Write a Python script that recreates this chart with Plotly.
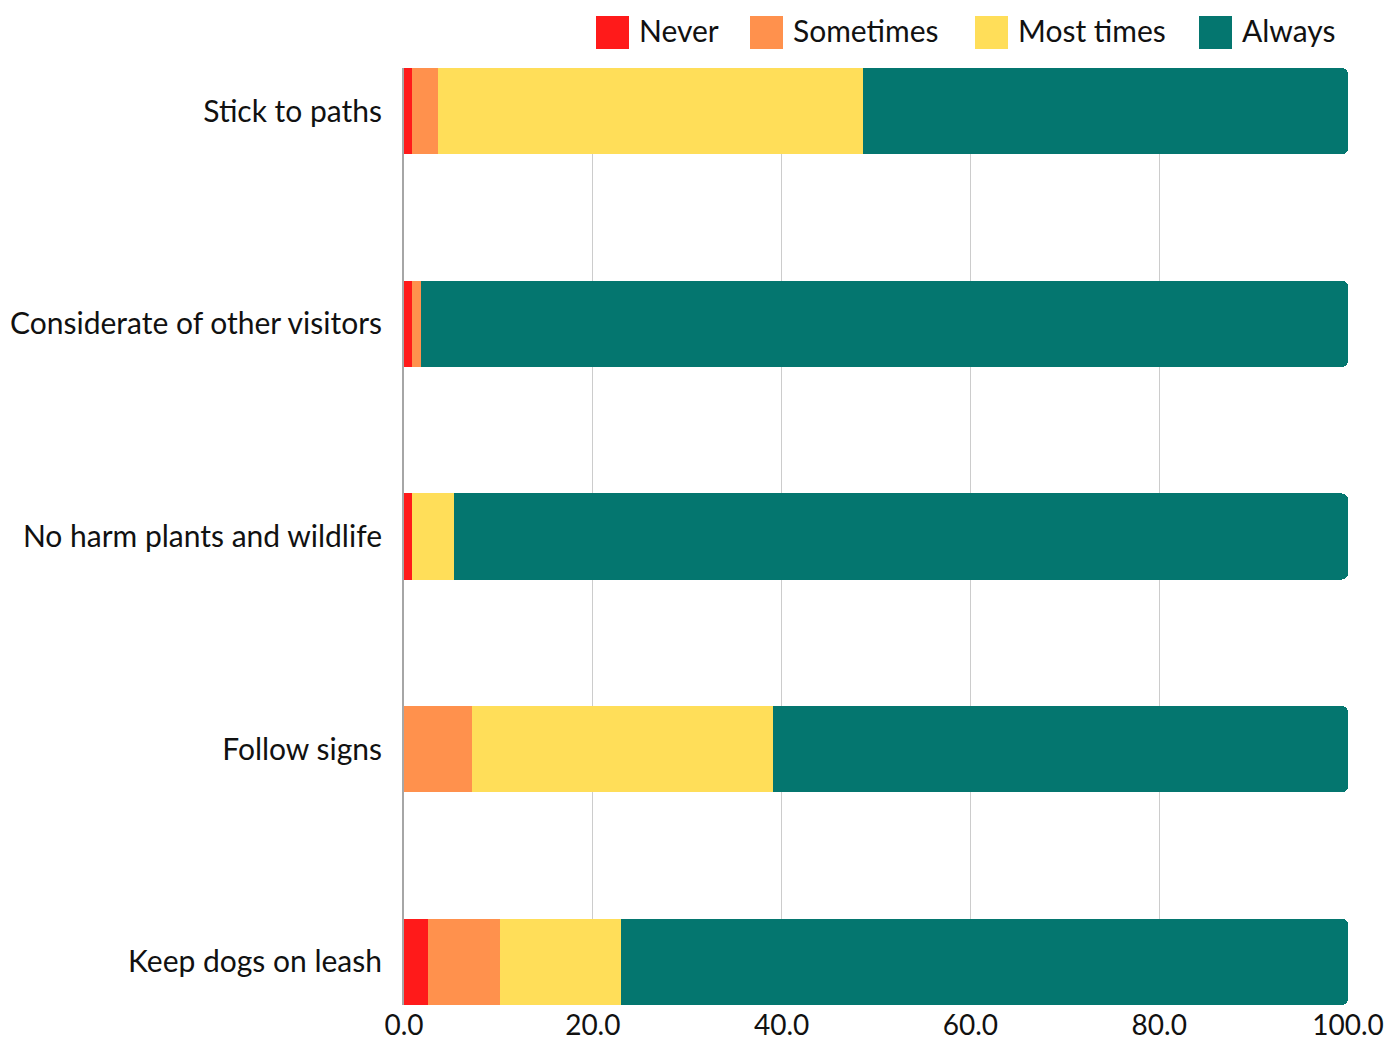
import plotly.graph_objects as go

categories = ["Stick to paths", "Considerate of other visitors", "No harm plants and wildlife",
              "Follow signs", "Keep dogs on leash"]
never = [0.85, 0.85, 0.85, 0.0, 2.5]
sometimes = [2.75, 0.95, 0.0, 7.2, 7.7]
most_times = [45.0, 0.0, 4.45, 31.9, 12.8]
always = [51.4, 98.2, 94.7, 60.9, 77.0]
series_names = ["Never", "Sometimes", "Most times", "Always"]
colors = ["#FF1A1A", "#FF914D", "#FFDE59", "#04766F"]
x_ticks = [0, 20, 40, 60, 80, 100]

FONT = "Lato"
FS = 30
fig = go.Figure()
for name, vals, col in zip(series_names, [never, sometimes, most_times, always], colors):
    fig.add_trace(go.Bar(y=categories, x=vals, name=name, orientation="h",
                         marker=dict(color=col, line=dict(width=0)), showlegend=False))

# custom legend (large swatches)
leg_x = [596, 750, 975, 1199]
W, H = 1395, 1043
ml, mr, mt, mb = 404, 47, 68, 38
pw, ph = W - ml - mr, H - mt - mb
for name, col, lx in zip(series_names, colors, leg_x):
    x0 = (lx - ml) / pw
    x1 = (lx + 33 - ml) / pw
    y0 = (H - mb - 49) / ph
    y1 = (H - mb - 16) / ph
    fig.add_shape(type="rect", xref="paper", yref="paper", x0=x0, x1=x1, y0=y0, y1=y1,
                  fillcolor=col, line=dict(width=0))
    fig.add_annotation(xref="paper", yref="paper", x=(lx + 41 - ml) / pw, y=(y0 + y1) / 2,
                       yshift=3, text=name, showarrow=False, xanchor="left", yanchor="middle",
                       font=dict(family=FONT, size=FS, color="#111111"))

w = 0.405
fig.update_layout(
    barmode="stack",
    bargap=1 - w,
    barcornerradius=6,
    width=W, height=H,
    margin=dict(l=ml, r=mr, t=mt, b=mb, autoexpand=False),
    plot_bgcolor="white", paper_bgcolor="white",
    font=dict(family=FONT, size=FS, color="#111111"),
    xaxis=dict(range=[0, 100], tickvals=x_ticks, tickformat=".1f", showgrid=True,
               gridcolor="#cccccc", gridwidth=1, zeroline=False, showline=False,
               ticks="", ticklabelstandoff=1, tickfont=dict(size=28), automargin=False),
    yaxis=dict(categoryorder="array", categoryarray=categories[::-1],
               range=[-w / 2, 4 + w / 2], showline=True, linecolor="#a6a6a6", linewidth=2,
               showgrid=False, ticks="", ticklabelstandoff=14, tickfont=dict(size=FS),
               automargin=False),
)
fig.write_html("out.html")
